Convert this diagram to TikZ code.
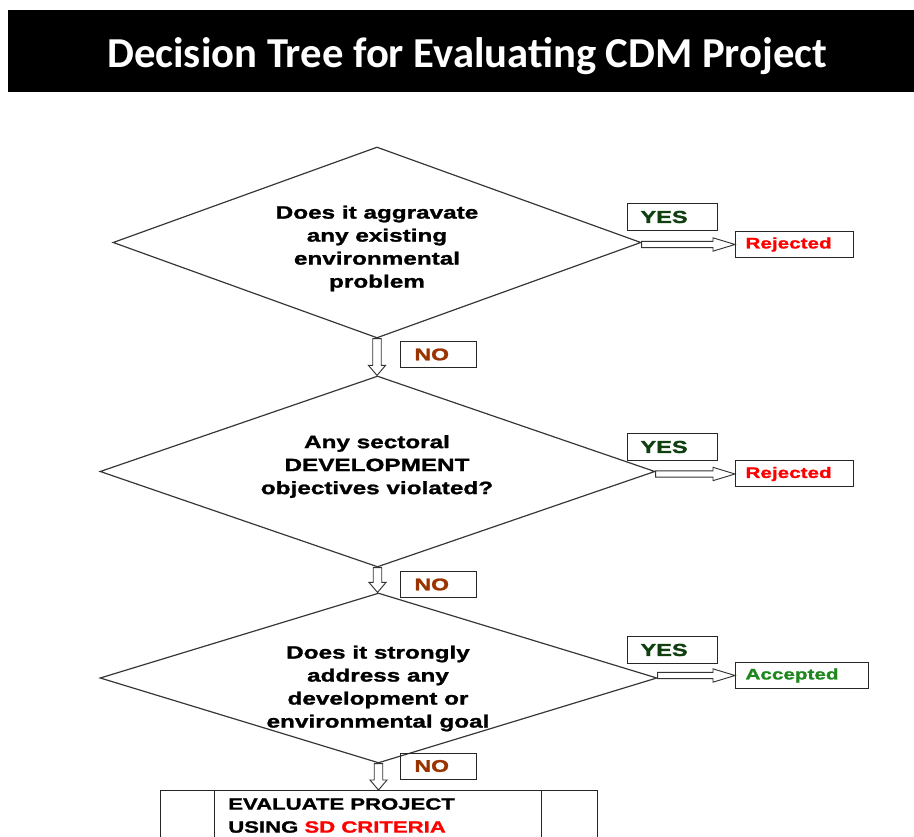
\documentclass[tikz,border=0pt]{standalone}
\usepackage{fontspec}
\usetikzlibrary{shapes.geometric,calc}
\newfontfamily\titlefont{Carlito}
\newfontfamily\boxfont{Liberation Sans}[FakeStretch=1.36, FakeBold=1.4]
\definecolor{yesgreen}{RGB}{16,64,16}
\definecolor{nobrown}{RGB}{153,51,0}
\definecolor{accgreen}{RGB}{30,135,30}
\definecolor{edgegray}{RGB}{55,55,55}
\tikzset{
  decision/.style={draw=edgegray, line width=0.9pt, shape=diamond, inner sep=0pt},
  qtext/.style={font=\boxfont\bfseries\fontsize{13.4pt}{17.25pt}\selectfont, align=center, inner sep=0pt},
  tag/.style={draw=black!85, line width=0.75pt, anchor=north west, inner ysep=0pt, align=left},
  yestag/.style={tag, minimum width=67.5pt, minimum height=20.25pt, inner xsep=9.75pt, text width=48pt,
    text=yesgreen, font=\boxfont\bfseries\fontsize{13pt}{15pt}\selectfont},
  notag/.style={tag, minimum width=57pt, minimum height=19.5pt, inner xsep=10.5pt, text width=36pt,
    text=nobrown, font=\boxfont\bfseries\fontsize{12.7pt}{15pt}\selectfont},
  outcome/.style={tag, minimum height=19.5pt, inner xsep=7.5pt,
    font=\boxfont\bfseries\fontsize{11.4pt}{14pt}\selectfont},
  hollow/.style={draw=black!80, fill=white, line width=0.7pt},
  % wide open arrow running right, level with the target
  hright/.style={to path={let \p1=(\tikztostart), \p2=(\tikztotarget) in
    (\x1,\y2+2.4pt) -- (\x2-16.5pt,\y2+2.4pt) -- (\x2-16.5pt,\y2+5pt) -- (\x2,\y2)
    -- (\x2-16.5pt,\y2-5pt) -- (\x2-16.5pt,\y2-2.4pt) -- (\x1,\y2-2.4pt) -- cycle}},
  % wide open arrow running down
  hdown/.style={to path={let \p1=(\tikztostart), \p2=(\tikztotarget) in
    (\x1-3.2pt,\y1) -- (\x1-3.2pt,\y2+7.5pt) -- (\x1-6.4pt,\y2+7.5pt) -- (\x1,\y2)
    -- (\x1+6.4pt,\y2+7.5pt) -- (\x1+3.2pt,\y2+7.5pt) -- (\x1+3.2pt,\y1) -- cycle}},
}
\begin{document}
\begin{tikzpicture}[x=0.75pt, y=-0.75pt]
\useasboundingbox (0,0) rectangle (914,837);
\clip (0,0) rectangle (914,837);

% title bar
\fill[black] (8,10) rectangle (914,92);
\node[text=white, font=\titlefont\bfseries\fontsize{32pt}{36pt}\selectfont] (title) at (467.5,56)
  {Decision Tree for Evaluating CDM Project};

% decisions
\node[decision, minimum width=396pt, minimum height=143.25pt] (d1) at (377,242.5) {};
\node[decision, minimum width=416.25pt, minimum height=143.25pt] (d2) at (377.5,471.5) {};
\node[decision, minimum width=417.75pt, minimum height=127.5pt] (d3) at (378.5,678) {};

\node[qtext] (t1) at (377,248.5) {Does it aggravate\\any existing\\environmental\\problem};
\node[qtext] (t2) at (377,466.5) {Any sectoral\\DEVELOPMENT\\objectives violated?};
\node[qtext] (t3) at (378,688.5) {Does it strongly\\address any\\development or\\environmental goal};

% yes branch labels and outcomes
\node[yestag] (y1) at (627,203) {YES};
\node[yestag] (y2) at (627,433) {YES};
\node[yestag] (y3) at (627,636) {YES};

\node[outcome, minimum width=88.5pt, text width=73.5pt, text=red] (r1) at (735,231) {Rejected};
\node[outcome, minimum width=88.5pt, text width=73.5pt, text=red] (r2) at (735,460.5) {Rejected};
\node[outcome, minimum width=99.75pt, text width=84.75pt, text=accgreen] (acc) at (735,662) {Accepted};

% no branch labels
\node[notag] (n1) at (400,341) {NO};
\node[notag] (n2) at (400,571) {NO};
\node[notag] (n3) at (400,752.5) {NO};

% final evaluation box
\node[draw=black!85, line width=0.75pt, anchor=north west, minimum width=327.75pt, minimum height=60pt,
  inner sep=0pt] (eval) at (160,790) {};
\draw[black!85, line width=0.75pt] ($(eval.north west)+(54,0)$) -- ($(eval.south west)+(54,0)$);
\draw[black!85, line width=0.75pt] ($(eval.north west)+(381,0)$) -- ($(eval.south west)+(381,0)$);
\node[anchor=north west, align=left, inner sep=0pt,
  font=\boxfont\bfseries\fontsize{12.2pt}{17.25pt}\selectfont] (evaltext) at (228,798)
  {EVALUATE PROJECT\\USING \textcolor{red}{SD CRITERIA}};

% connectors
\draw[hollow, hright] (d1.east) to (r1.west);
\draw[hollow, hright] (d2.east) to (r2.west);
\draw[hollow, hright] (d3.east) to (acc.west);
\draw[hollow, hdown] (d1.south) to (d2.north);
\draw[hollow, hdown] (d2.south) to (d3.north);
\draw[hollow, hdown] (d3.south) to (eval.north);
\end{tikzpicture}
\end{document}
